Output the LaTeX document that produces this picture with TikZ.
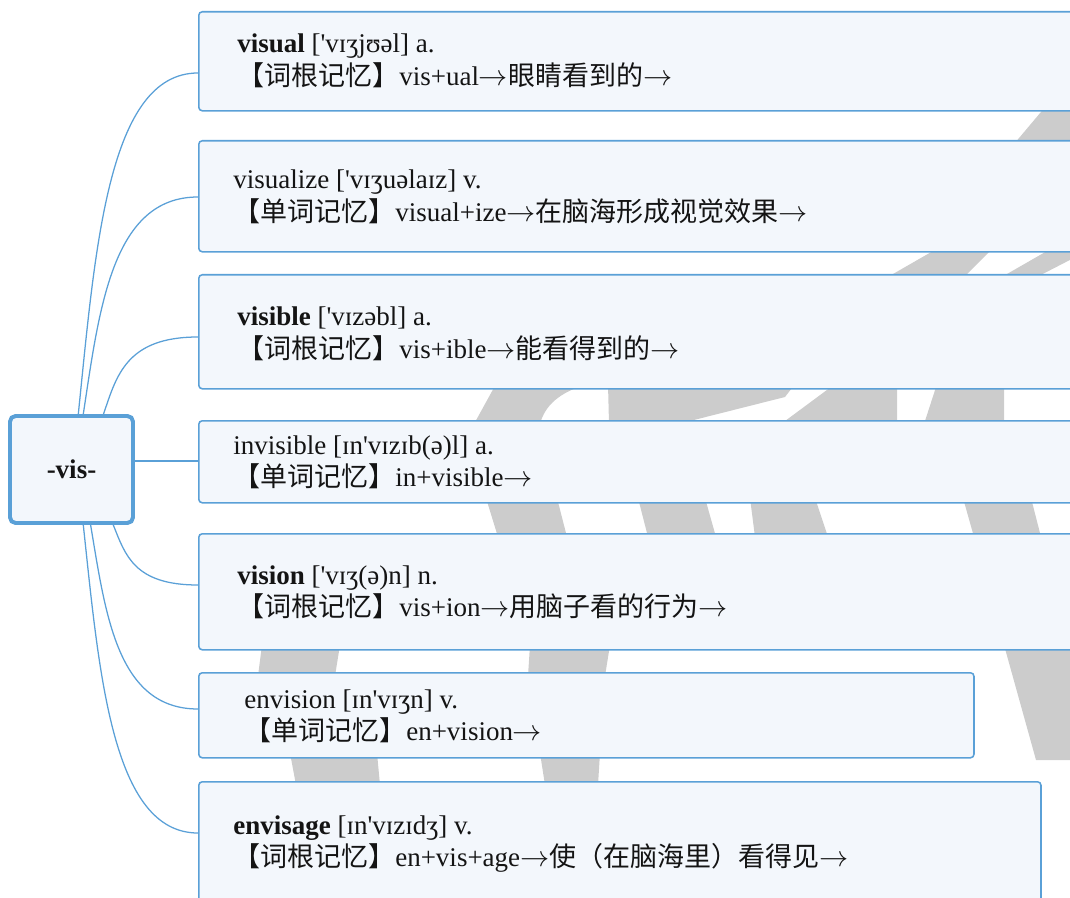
\documentclass[tikz,border=0pt]{standalone}
\usepackage{fontspec}
\newfontfamily\txt{Liberation Serif}
\newfontfamily\cjk{Noto Sans CJK SC}
\usetikzlibrary{calc}
\definecolor{mapblue}{RGB}{90,160,215}
\definecolor{mapfill}{RGB}{243,247,252}
\definecolor{wmgray}{RGB}{204,204,204}
\definecolor{ink}{RGB}{20,20,20}
\newcommand\zh[1]{{\cjk #1}}
\newcommand\ar{$\rightarrow$}
\newcommand\twolines[2]{\begin{tabular}[t]{@{}l@{}}#1\\#2\end{tabular}}

\begin{document}
\begin{tikzpicture}[x=0.025cm, y=-0.025cm,
    font=\txt\fontsize{19.2}{22.8}\selectfont,
    word/.style={draw=mapblue, fill=mapfill, line width=1.1pt, rounded corners=2.5pt,
        anchor=north west, inner sep=0pt},
    rootbox/.style={draw=mapblue, fill=mapfill, line width=2.8pt, rounded corners=4pt,
        minimum width=3.075cm, minimum height=2.675cm, inner sep=0pt, text=ink},
    entry/.style={anchor=base west, inner sep=0pt, text=ink},
    link/.style={draw=mapblue, line width=0.9pt}]
    \useasboundingbox (0,0) rectangle (1070,898);

    % watermark, only seen between the boxes
    \fill[wmgray] (1046,106) -- (1080,106) -- (1080,144) -- (1014,144) -- cycle;
    \fill[wmgray] (940,247) -- (994,247) -- (963,278) -- (886,278) -- cycle;
    \fill[wmgray] (1054,247) -- (1095,247) -- (1035,278) -- (1000,278) -- cycle;
    \fill[wmgray] (496,384) -- (588,384) .. controls (560,392) and (545,405) .. (540,424) -- (474,424) -- cycle;
    \fill[wmgray] (608,384) -- (795,384) -- (785,397) -- (678,424) -- (609,424) -- cycle;
    \fill[wmgray] (835,384) -- (897,384) -- (897,424) -- (781,424) -- cycle;
    \fill[wmgray] (937,384) -- (1004,384) -- (1004,424) -- (924,424) -- cycle;
    \fill[wmgray] (486,498) -- (557,498) -- (567,537) -- (498,537) -- cycle;
    \fill[wmgray] (638,498) -- (705,498) -- (716,537) -- (648,537) -- cycle;
    \fill[wmgray] (750,498) -- (815,498) -- (828,537) -- (755,537) -- cycle;
    \fill[wmgray] (963,498) -- (1031,498) -- (1041,537) -- (974,537) -- cycle;
    \fill[wmgray] (262,645) -- (340,645) -- (335,676) -- (258,676) -- cycle;
    \fill[wmgray] (530,645) -- (610,645) -- (605,676) -- (528,676) -- cycle;
    \fill[wmgray] (290,753) -- (377,753) -- (380,785) -- (296,785) -- cycle;
    \fill[wmgray] (540,753) -- (600,753) -- (598,785) -- (545,785) -- cycle;
    \fill[wmgray] (1004,645) -- (1075,645) -- (1075,760) -- (1036,760) -- cycle;

    % root
    \node[rootbox] (root) at (71.5,469.5) {\textbf{-vis-}};

    % word boxes
    \node[word, minimum width=22.5cm, minimum height=2.475cm] (visual) at (198,11) {};
    \node[word, minimum width=22.5cm, minimum height=2.775cm] (visualize) at (198,140) {};
    \node[word, minimum width=22.5cm, minimum height=2.85cm] (visible) at (198,274) {};
    \node[word, minimum width=22.5cm, minimum height=2.05cm] (invisible) at (198,420) {};
    \node[word, minimum width=22.5cm, minimum height=2.9cm] (vision) at (198,533) {};
    \node[word, minimum width=19.375cm, minimum height=2.125cm] (envision) at (198,672) {};
    \node[word, minimum width=21.05cm, minimum height=3.5cm] (envisage) at (198,781) {};

    % texts
    \node[entry] (visual-text) at (237,53)
        {\twolines{\textbf{visual} ['vɪʒjʊəl] a.}{\zh{【词根记忆】}vis+ual\ar\zh{眼睛看到的}\ar}};
    \node[entry] (visualize-text) at (233,189)
        {\twolines{visualize ['vɪʒuəlaɪz] v.}{\zh{【单词记忆】}visual+ize\ar\zh{在脑海形成视觉效果}\ar}};
    \node[entry] (visible-text) at (237,326)
        {\twolines{\textbf{visible} ['vɪzəbl] a.}{\zh{【词根记忆】}vis+ible\ar\zh{能看得到的}\ar}};
    \node[entry] (invisible-text) at (233,454)
        {\twolines{invisible [ɪn'vɪzɪb(ə)l] a.}{\zh{【单词记忆】}in+visible\ar}};
    \node[entry] (vision-text) at (237,584)
        {\twolines{\textbf{vision} ['vɪʒ(ə)n] n.}{\zh{【词根记忆】}vis+ion\ar\zh{用脑子看的行为}\ar}};
    \node[entry] (envision-text) at (244,708)
        {\twolines{envision [ɪn'vɪʒn] v.}{\zh{【单词记忆】}en+vision\ar}};
    \node[entry] (envisage-text) at (233,834)
        {\twolines{\textbf{envisage} [ɪn'vɪzɪdʒ] v.}{\zh{【词根记忆】}en+vis+age\ar\zh{使（在脑海里）看得见}\ar}};

    % where the links meet the boxes
    \coordinate (visual-in) at ($(visual.north west)+(0,62)$);
    \coordinate (visualize-in) at ($(visualize.north west)+(0,57)$);
    \coordinate (visible-in) at ($(visible.north west)+(0,63)$);
    \coordinate (invisible-in) at ($(invisible.north west)+(0,41)$);
    \coordinate (vision-in) at ($(vision.north west)+(0,52)$);
    \coordinate (envision-in) at ($(envision.north west)+(0,37)$);
    \coordinate (envisage-in) at ($(envisage.north west)+(0,52)$);

    % links
    \draw[link] (root.83) .. controls +(17,-166) and +(-90,0) .. (visual-in);
    \draw[link] (root.78) .. controls +(16,-105) and +(-86,0) .. (visualize-in);
    \draw[link] (root.60) .. controls +(13,-38) and +(-72,0) .. (visible-in);
    \draw[link] (root.east |- invisible-in) -- (invisible-in);
    \draw[link] (root.-53) .. controls +(12,30) and +(-64,0) .. (vision-in);
    \draw[link] (root.-71) .. controls +(15,89) and +(-81,0) .. (envision-in);
    \draw[link] (root.-78) .. controls +(16,149) and +(-86,0) .. (envisage-in);
\end{tikzpicture}
\end{document}
